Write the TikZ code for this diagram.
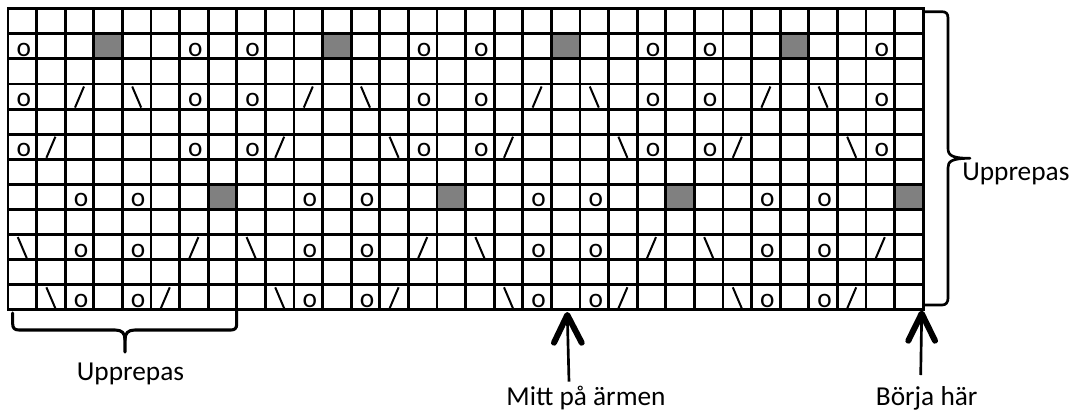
\documentclass[tikz,border=0pt]{standalone}
\usepackage{fontspec}
\setmainfont{Carlito}
\definecolor{cellgrey}{RGB}{128,128,128}
\begin{document}
\begin{tikzpicture}[x=0.75pt,y=-0.75pt,
  gl/.style={line width=2.15pt,line cap=rect},
  slash/.style={line width=1.5pt},
  ochar/.style={inner sep=0pt,anchor=base,font=\fontsize{20.5}{24}\selectfont},
  lab/.style={inner sep=0pt,font=\fontsize{20.5}{24}\selectfont},
  bracer/.style={line width=2pt,line join=round,line cap=round},
  braceb/.style={line width=2.3pt,line join=round,line cap=round},
  shaft/.style={line width=2pt},
  head/.style={line width=4.5pt,line cap=round,line join=round}]
\useasboundingbox (0,0) rectangle (1076,419);
% grey cells
\foreach \r/\cs in {2/{4,12,20,28},8/{8,16,24,32}}{
  \foreach \c in \cs{
    \fill[cellgrey] ({8+(\c-1)*28.6},{8.7+(\r-1)*25.1}) rectangle ({8+\c*28.6},{8.7+\r*25.1});
  }
}
% grid
\foreach \i in {0,...,32}{\draw[gl] ({8+\i*28.6},8.7) -- ({8+\i*28.6},309.9);}
\foreach \j in {0,...,12}{\draw[gl] (8,{8.7+\j*25.1}) -- (923.2,{8.7+\j*25.1});}
% o symbols
\foreach \r/\cs in {2/{1,7,9,15,17,23,25,31},4/{1,7,9,15,17,23,25,31},6/{1,7,9,15,17,23,25,31},
                    8/{3,5,11,13,19,21,27,29},10/{3,5,11,13,19,21,27,29},12/{3,5,11,13,19,21,27,29}}{
  \foreach \c in \cs{
    \node[ochar] (o-\r-\c) at ({8+(\c-0.5)*28.6+1.5},{8.7+\r*25.1-2.6}) {o};
  }
}
% forward slashes
\foreach \r/\cs in {4/{3,11,19,27},6/{2,10,18,26},10/{7,15,23,31},12/{6,14,22,30}}{
  \foreach \c in \cs{
    \draw[slash] ({8+(\c-0.5)*28.6-4.5},{8.7+\r*25.1-1.5}) -- ({8+(\c-0.5)*28.6+4.5},{8.7+(\r-1)*25.1+2.5});
  }
}
% back slashes
\foreach \r/\cs in {4/{5,13,21,29},6/{14,22,30},10/{1,9,17,25},12/{2,10,18,26}}{
  \foreach \c in \cs{
    \draw[slash] ({8+(\c-0.5)*28.6-4.5},{8.7+(\r-1)*25.1+2.5}) -- ({8+(\c-0.5)*28.6+4.5},{8.7+\r*25.1-1.5});
  }
}
% right brace
\draw[bracer] (923.5,11.7) -- (942,11.7) .. controls (946,11.7) and (948,13.5) .. (948,18) -- (948,148)
  .. controls (948,155) and (951,158.3) .. (970,158.3)
  .. controls (951,158.3) and (948,161.5) .. (948,168) -- (948,298)
  .. controls (948,302.5) and (946,305) .. (942,305) -- (923.5,305);
% bottom brace
\draw[braceb] (12.7,313) -- (12.7,324) .. controls (12.7,328) and (14.5,330) .. (19,330) -- (115,330)
  .. controls (122,330) and (125,333) .. (125,340) -- (125,352);
\draw[braceb] (125,340) .. controls (125,333) and (128,330) .. (135,330) -- (231,330)
  .. controls (235,330) and (236.7,328) .. (236.7,324) -- (236.7,310.5);
% arrows
\coordinate (mittTip) at (567.3,315);
\coordinate (mittTail) at (569,381.7);
\coordinate (mittL) at (554,342.7);
\coordinate (mittR) at (581.7,342.7);
\draw[shaft] (mittTail) -- (mittTip);
\draw[head] (mittL) -- (mittTip) -- (mittR);
\coordinate (borjaTip) at (921.7,313.5);
\coordinate (borjaTail) at (920.7,375);
\coordinate (borjaL) at (908.3,340.7);
\coordinate (borjaR) at (935,340.7);
\draw[shaft] (borjaTail) -- (borjaTip);
\draw[head] (borjaL) -- (borjaTip) -- (borjaR);
% labels
\node[lab,anchor=base] (uppBottom) at (130.5,380) {Upprepas};
\node[lab,anchor=base west] (uppRight) at (962,180) {Upprepas};
\node[lab,anchor=base] (mittLab) at (586,405) {Mitt på ärmen};
\node[lab,anchor=base] (borjaLab) at (926.7,405) {Börja här};
\end{tikzpicture}
\end{document}
